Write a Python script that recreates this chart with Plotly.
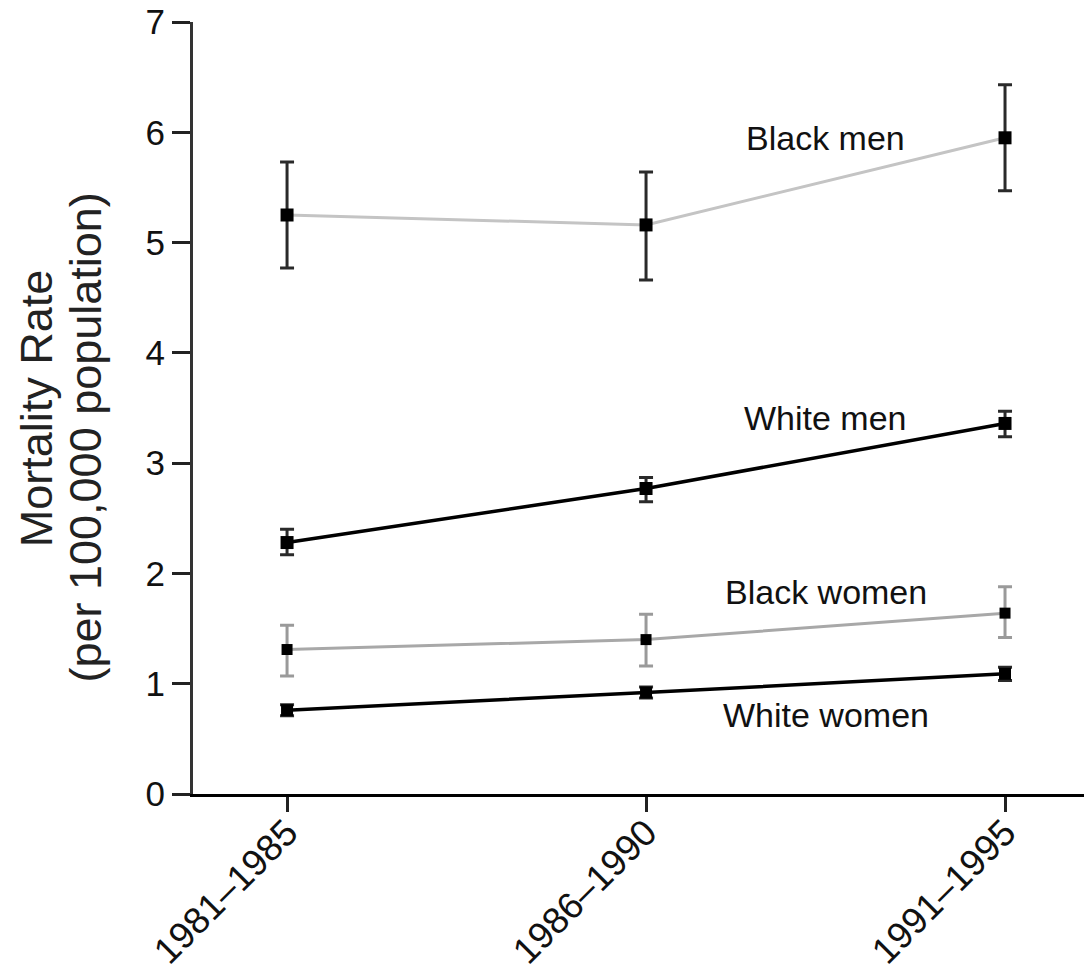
import plotly.graph_objects as go

periods = ["1981\u20131985", "1986\u20131990", "1991\u20131995"]

black_men = [5.25, 5.16, 5.95]
black_men_hi = [5.73, 5.64, 6.43]
black_men_lo = [4.77, 4.66, 5.47]

white_men = [2.28, 2.77, 3.36]
white_men_hi = [2.40, 2.87, 3.47]
white_men_lo = [2.17, 2.65, 3.24]

black_women = [1.31, 1.40, 1.64]
black_women_hi = [1.53, 1.63, 1.88]
black_women_lo = [1.07, 1.16, 1.42]

white_women = [0.76, 0.92, 1.09]
white_women_hi = [0.81, 0.97, 1.15]
white_women_lo = [0.71, 0.87, 1.03]

series_labels = ["Black men", "White men", "Black women", "White women"]

FONT = "Liberation Sans, Arial, sans-serif"
xs = list(range(len(periods)))


def err(v, hi, lo):
    return [h - c for h, c in zip(hi, v)], [c - l for c, l in zip(v, lo)]


fig = go.Figure()

specs = [
    (black_men, black_men_hi, black_men_lo, "#c4c4c4", 3, "#2a2a2a", "square", 13),
    (white_men, white_men_hi, white_men_lo, "#000000", 3.5, "#2a2a2a", "square", 13),
    (black_women, black_women_hi, black_women_lo, "#a8a8a8", 3, "#9a9a9a", "square", 11),
    (white_women, white_women_hi, white_women_lo, "#000000", 3.5, "#2a2a2a", "square", 12),
]

for (v, hi, lo, lc, lw, ec, sym, ms), name in zip(specs, series_labels):
    up, dn = err(v, hi, lo)
    fig.add_trace(go.Scatter(
        x=xs, y=v, name=name, mode="lines+markers",
        line=dict(color=lc, width=lw),
        marker=dict(symbol=sym, size=ms, color="#000000"),
        error_y=dict(type="data", symmetric=False, array=up, arrayminus=dn,
                     color=ec, thickness=3, width=7),
        showlegend=False,
    ))

label_pos = [(1.5, 5.95), (1.5, 3.41), (1.5, 1.83), (1.5, 0.72)]
for name, (lx, ly) in zip(series_labels, label_pos):
    fig.add_annotation(x=lx, y=ly, xref="x", yref="y", text=name, showarrow=False,
                       font=dict(family=FONT, size=34, color="#111111"),
                       xanchor="center", yanchor="middle")

fig.add_annotation(x=-0.176, y=0.5, xref="paper", yref="paper", text="Mortality Rate",
                   showarrow=False, textangle=-90,
                   font=dict(family=FONT, size=45, color="#222222"),
                   xanchor="center", yanchor="middle")
fig.add_annotation(x=-0.121, y=0.462, xref="paper", yref="paper",
                   text="(per 100,000 population)", showarrow=False, textangle=-90,
                   font=dict(family=FONT, size=45, color="#222222"),
                   xanchor="center", yanchor="middle")

fig.update_layout(
    width=1084, height=971,
    margin=dict(l=193, r=0, t=22, b=177, autoexpand=False),
    paper_bgcolor="white", plot_bgcolor="white",
    font=dict(family=FONT, size=34, color="#111111"),
)
fig.update_xaxes(
    range=[-0.262, 2.22], tickmode="array", tickvals=xs, ticktext=periods,
    tickangle=-45, ticks="outside", ticklen=15, tickwidth=3, tickcolor="#222222",
    showline=True, linewidth=3, linecolor="#000000", showgrid=False, zeroline=False,
    tickfont=dict(family=FONT, size=37, color="#111111"), automargin=False,
    ticklabelstandoff=-16,
)
fig.update_yaxes(
    range=[0, 7], tickmode="array", tickvals=list(range(8)),
    ticks="outside", ticklen=18, tickwidth=3, tickcolor="#222222",
    showline=True, linewidth=3, linecolor="#333333", showgrid=False, zeroline=False,
    tickfont=dict(family=FONT, size=35, color="#111111"), automargin=False,
)

fig.write_html("out.html")
